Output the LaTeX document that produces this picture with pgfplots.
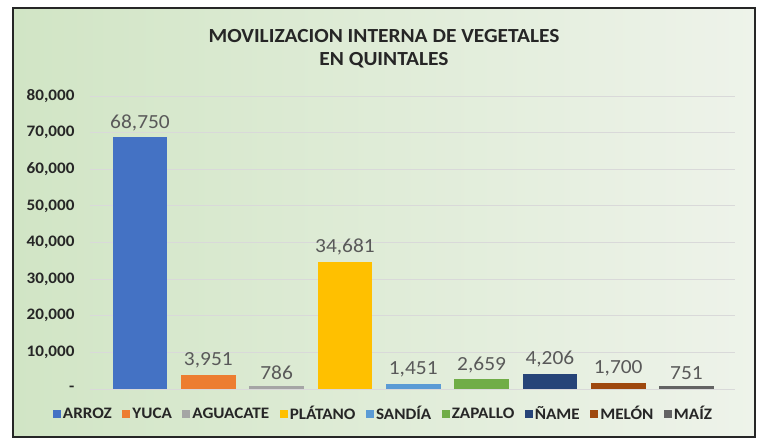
\documentclass[border=0pt]{standalone}
\usepackage{pgfplots}
\pgfplotsset{compat=1.18}
\usepackage{fontspec}
\setmainfont{Carlito}[FakeStretch=1.07]
\definecolor{c1}{HTML}{4472C4}
\definecolor{c2}{HTML}{ED7D31}
\definecolor{c3}{HTML}{A5A5A5}
\definecolor{c4}{HTML}{FFC000}
\definecolor{c5}{HTML}{5B9BD5}
\definecolor{c6}{HTML}{70AD47}
\definecolor{c7}{HTML}{264478}
\definecolor{c8}{HTML}{9E480E}
\definecolor{c9}{HTML}{636363}
\definecolor{bgl}{HTML}{D1E5C5}
\definecolor{bgr}{HTML}{EEF3EA}
\definecolor{gridc}{HTML}{D9D9D9}
\definecolor{lblc}{HTML}{595959}
\definecolor{tickc}{HTML}{262626}
\begin{document}
\begin{tikzpicture}[x=1pt,y=1pt]
\useasboundingbox (0,0) rectangle (761,445);
\shade[left color=bgl, right color=bgr] (13,8) rectangle (755,437);
\draw[line width=1.6pt, black!85] (13,8) rectangle (755,437);
\begin{axis}[
  at={(90pt,56pt)}, anchor=south west,
  scale only axis, width=645pt, height=293pt,
  xmin=-0.732, xmax=8.71, ymin=0, ymax=80000,
  axis line style={draw=none},
  major tick length=0pt,
  xtick=\empty,
  scaled y ticks=false,
  ytick={0,10000,20000,30000,40000,50000,60000,70000,80000},
  yticklabels={{-\hspace{13pt}},{10,000},{20,000},{30,000},{40,000},{50,000},{60,000},{70,000},{80,000}},
  yticklabel style={font=\bfseries\fontsize{16}{18}\selectfont, text=tickc, anchor=east, xshift=-12pt},
  ymajorgrids, grid style={gridc, line width=0.8pt},
  bar width=0.8, ybar, bar shift=0pt,
  nodes near coords,
  /pgf/number format/.cd, fixed, 1000 sep={,}, assume math mode=true,
  /pgfplots/.cd,
  every node near coord/.append style={font=\fontsize{20}{24}\selectfont, text=lblc, yshift=3pt},
  legend columns=9,
  legend style={at={(0.455,-0.085)}, anchor=center, draw=none, fill=none,
    font=\bfseries\fontsize{16}{18}\selectfont, text=tickc,
    /tikz/every even column/.append style={column sep=8.5pt},
    /tikz/every odd column/.append style={column sep=0pt}},
  legend image code/.code={\fill[#1] (0pt,-4pt) rectangle (8pt,4pt);},
  clip=false,
]
\addplot[fill=c1, draw=none] coordinates {(0,68750)};
\addlegendentry{ARROZ}
\addplot[fill=c2, draw=none] coordinates {(1,3951)};
\addlegendentry{YUCA}
\addplot[fill=c3, draw=none] coordinates {(2,786)};
\addlegendentry{AGUACATE}
\addplot[fill=c4, draw=none] coordinates {(3,34681)};
\addlegendentry{PLÁTANO}
\addplot[fill=c5, draw=none] coordinates {(4,1451)};
\addlegendentry{SANDÍA}
\addplot[fill=c6, draw=none] coordinates {(5,2659)};
\addlegendentry{ZAPALLO}
\addplot[fill=c7, draw=none] coordinates {(6,4206)};
\addlegendentry{ÑAME}
\addplot[fill=c8, draw=none] coordinates {(7,1700)};
\addlegendentry{MELÓN}
\addplot[fill=c9, draw=none] coordinates {(8,751)};
\addlegendentry{MAÍZ}
\end{axis}
\node[font=\bfseries\fontsize{20}{23}\selectfont, text=tickc, align=center] at (384,396) {MOVILIZACION INTERNA DE VEGETALES\\EN QUINTALES};
\end{tikzpicture}
\end{document}
